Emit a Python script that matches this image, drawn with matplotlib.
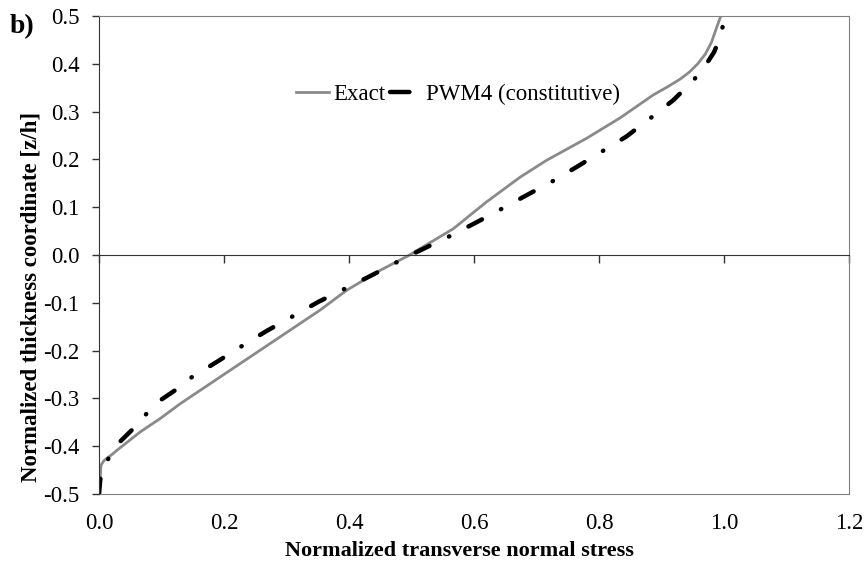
import matplotlib
matplotlib.use("Agg")
import matplotlib.pyplot as plt
from matplotlib.lines import Line2D

plt.rcParams['font.family'] = ['Liberation Serif', 'DejaVu Serif']
plt.rcParams['lines.scale_dashes'] = False

# exact solution: normalized transverse normal stress vs thickness coordinate
exact_stress = [0.000, 0.002, 0.003, 0.008, 0.020, 0.034, 0.066, 0.098, 0.130, 0.162,
                0.194, 0.226, 0.258, 0.290, 0.322, 0.354, 0.396, 0.450, 0.497, 0.512,
                0.567, 0.620, 0.674, 0.716, 0.780, 0.834, 0.887, 0.910, 0.930, 0.945,
                0.958, 0.970, 0.980, 0.988, 0.995]
exact_z = [-0.500, -0.470, -0.440, -0.430, -0.418, -0.403, -0.370, -0.342, -0.311, -0.283,
           -0.255, -0.227, -0.199, -0.171, -0.143, -0.115, -0.074, -0.032, 0.000, 0.012,
           0.055, 0.111, 0.163, 0.198, 0.244, 0.287, 0.335, 0.352, 0.368, 0.383,
           0.400, 0.420, 0.445, 0.475, 0.500]

# PWM4 with constitutive transverse stress
pwm_stress = [0.000, 0.002, 0.006, 0.015, 0.034, 0.055, 0.076, 0.098, 0.124, 0.148,
              0.188, 0.228, 0.268, 0.309, 0.351, 0.391, 0.434, 0.475, 0.508, 0.559,
              0.602, 0.642, 0.684, 0.724, 0.764, 0.804, 0.844, 0.882, 0.919, 0.943,
              0.960, 0.973, 0.984, 0.991, 0.998]
pwm_z = [-0.500, -0.470, -0.445, -0.426, -0.390, -0.363, -0.332, -0.304, -0.281, -0.256,
         -0.224, -0.191, -0.159, -0.129, -0.098, -0.072, -0.044, -0.016, 0.006, 0.038,
         0.067, 0.095, 0.125, 0.153, 0.184, 0.216, 0.248, 0.286, 0.324, 0.355,
         0.378, 0.402, 0.424, 0.446, 0.478]

x_ticks = [0.0, 0.2, 0.4, 0.6, 0.8, 1.0, 1.2]
y_ticks = [-0.5, -0.4, -0.3, -0.2, -0.1, 0.0, 0.1, 0.2, 0.3, 0.4, 0.5]

FS = 16.5
GRAY = '#8a8a8a'
DASHDOT = (0, (11.0, 15.5, 0.3, 15.5))

fig = plt.figure(figsize=(8.67, 5.67), dpi=100)
ax = fig.add_axes([0.1142, 0.1287, 0.8650, 0.8431])

ax.plot(exact_stress, exact_z, color=GRAY, lw=2.0, solid_capstyle='round',
        solid_joinstyle='round')
ax.plot(pwm_stress, pwm_z, color='black', lw=3.2, linestyle=DASHDOT,
        dash_capstyle='round', dash_joinstyle='round')

ax.set_xlim(0, 1.2)
ax.set_ylim(-0.5, 0.5)

# horizontal axis sits on z = 0, labels go along the bottom edge
ax.spines['bottom'].set_position(('data', 0))
ax.spines['bottom'].set_color('#333333')
ax.spines['left'].set_color('#333333')
for s in ('top', 'right'):
    ax.spines[s].set_color('#808080')
ax.set_xticks(x_ticks)
ax.tick_params(axis='x', direction='out', length=5.5, width=1, color='#333333',
               labelbottom=False)
ax.set_yticks(y_ticks)
ax.set_yticklabels([f'{v:.1f}' for v in y_ticks])
ax.tick_params(axis='y', direction='out', length=5, width=1, color='#333333',
               pad=9, labelsize=FS)

sec = ax.secondary_xaxis(0.0)
sec.set_xticks(x_ticks)
sec.set_xticklabels([f'{v:.1f}' for v in x_ticks])
sec.tick_params(length=0, pad=13.5, labelsize=FS)
sec.spines['bottom'].set_color('#808080')

ax.set_xlabel('Normalized transverse normal stress', fontsize=16, fontweight='bold')
ax.xaxis.set_label_coords(0.481, -0.098)
ax.set_ylabel('Normalized thickness coordinate [z/h]', fontsize=FS, fontweight='bold')
ax.yaxis.set_label_coords(-0.077, 0.412)

handles = [Line2D([], [], color=GRAY, lw=2.0),
           Line2D([], [], color='black', lw=3.2, linestyle=(0, (14, 40)),
                  dash_capstyle='round')]
ax.legend(handles, ['Exact', 'PWM4 (constitutive)'], loc='center',
          bbox_to_anchor=(0.479, 0.835), ncol=2, frameon=False, fontsize=FS,
          handlelength=1.45, handletextpad=0.15, columnspacing=0.2)

fig.text(0.011, 0.976, 'b)', fontsize=20, fontweight='bold', va='top', ha='left')

fig.savefig('out.png', dpi=100)
